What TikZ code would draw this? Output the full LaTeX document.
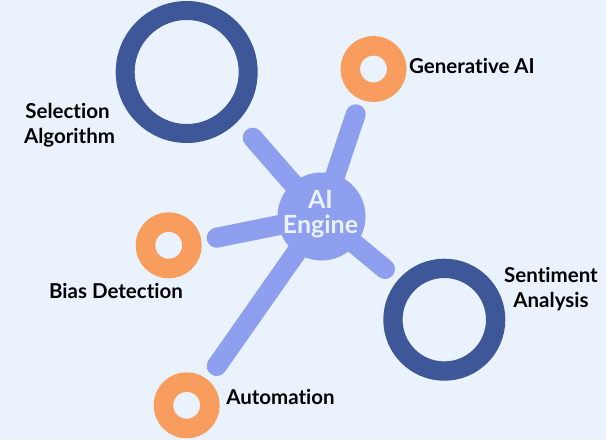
\documentclass[tikz,border=0pt]{standalone}
\usepackage{fontspec}
\setmainfont[Ligatures=NoCommon]{Lato}
\definecolor{pagebg}{HTML}{EAF3FD}
\definecolor{ringblue}{HTML}{3D5799}
\definecolor{ringorange}{HTML}{F99D5F}
\definecolor{spokeblue}{HTML}{8E9FEF}
\tikzset{
  bigring/.style={circle,draw=ringblue,line width=19pt,minimum size=123pt,inner sep=0pt},
  midring/.style={circle,draw=ringblue,line width=19.3pt,minimum size=102.7pt,inner sep=0pt},
  smallring/.style={circle,draw=ringorange,line width=19.5pt,minimum size=46.5pt,inner sep=0pt},
  hubnode/.style={circle,fill=spokeblue,minimum size=88pt,inner sep=0pt},
  hublbl/.style={align=center,text=pagebg,inner sep=0pt,font=\fontsize{25}{24.5}\selectfont\bfseries},
  spoke/.style={draw=spokeblue,line width=20pt,line cap=round},
  lbl/.style={align=center,text=black,inner sep=0pt,font=\fontsize{20.5}{25}\selectfont\bfseries}
}
\begin{document}
\begin{tikzpicture}[x=1pt,y=-1pt]
\useasboundingbox[fill=pagebg] (0,0) rectangle (606,440);
% Free ends of the spokes
\coordinate (endsel) at (252.7,137.7);
\coordinate (endgen) at (355.7,114.3);
\coordinate (endbias) at (216.7,237.7);
\coordinate (endsent) at (385,269);
\coordinate (endauto) at (216.7,366);
% Rings
\node[bigring] (selring) at (186.7,72) {};
\node[midring] (sentring) at (444.3,319.7) {};
\node[smallring] (genring) at (373.5,69) {};
\node[smallring] (biasring) at (168.7,245.3) {};
\node[smallring] (autoring) at (186.7,405.3) {};
% Hub
\node[hubnode] (hub) at (321.5,216.5) {};
% Spokes
\draw[spoke] (hub.center) -- (endsel);
\draw[spoke] (hub.center) -- (endgen);
\draw[spoke] (hub.center) -- (endbias);
\draw[spoke] (hub.center) -- (endsent);
\draw[spoke] (hub.center) -- (endauto);
% Labels
\node[hublbl] (hubtext) at (320.5,214) {AI\\Engine};
\node[lbl] (sellbl) at (69.5,125.5) {Selection\kern4pt\\Algorithm};
\node[lbl] (genlbl) at (472,65.5) {Generative AI};
\node[lbl] (biaslbl) at (116,291) {Bias Detection};
\node[lbl] (sentlbl) at (551,289.5) {Sentiment\\Analysis};
\node[lbl] (autolbl) at (280.5,397) {Automation};
\end{tikzpicture}
\end{document}
